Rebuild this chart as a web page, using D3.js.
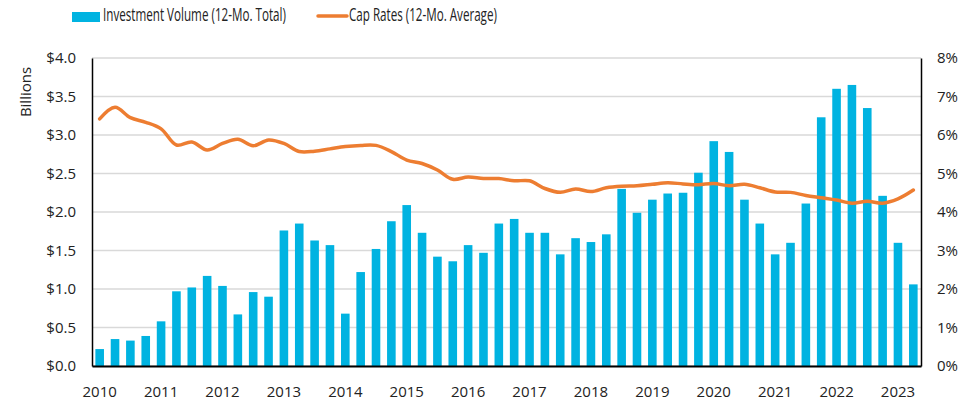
<!DOCTYPE html>
<html>
<head>
<meta charset="utf-8">
<script src="https://cdn.jsdelivr.net/npm/d3@7"></script>
<style>
  body { margin: 0; background: #fff; }
  text { font-family: "Open Sans", sans-serif; fill: #222; }
</style>
</head>
<body>
<svg width="978" height="405"></svg>
<script>
const BAR_COLOR = '#00b3e1';
const LINE_COLOR = '#ed7d31';
const GRID_COLOR = '#d9d9d9';

const quarters = [
  '2010Q1','2010Q2','2010Q3','2010Q4','2011Q1','2011Q2','2011Q3','2011Q4',
  '2012Q1','2012Q2','2012Q3','2012Q4','2013Q1','2013Q2','2013Q3','2013Q4',
  '2014Q1','2014Q2','2014Q3','2014Q4','2015Q1','2015Q2','2015Q3','2015Q4',
  '2016Q1','2016Q2','2016Q3','2016Q4','2017Q1','2017Q2','2017Q3','2017Q4',
  '2018Q1','2018Q2','2018Q3','2018Q4','2019Q1','2019Q2','2019Q3','2019Q4',
  '2020Q1','2020Q2','2020Q3','2020Q4','2021Q1','2021Q2','2021Q3','2021Q4',
  '2022Q1','2022Q2','2022Q3','2022Q4','2023Q1','2023Q2'
];

// billions of dollars, 12-month total
const volume = [
  0.22, 0.35, 0.33, 0.39, 0.58, 0.97, 1.02, 1.17, 1.04,
  0.67, 0.96, 0.90, 1.76, 1.85, 1.63, 1.57, 0.68, 1.22,
  1.52, 1.88, 2.09, 1.73, 1.42, 1.36, 1.57, 1.47, 1.85,
  1.91, 1.73, 1.73, 1.45, 1.66, 1.61, 1.71, 2.30, 1.99,
  2.16, 2.24, 2.25, 2.51, 2.92, 2.78, 2.16, 1.85,
  1.45, 1.60, 2.11, 3.23, 3.60, 3.65, 3.35, 2.21, 1.60, 1.06
];

// percent, 12-month average
const capRate = [
  6.42, 6.72, 6.45, 6.33, 6.16, 5.74, 5.82, 5.61, 5.78,
  5.89, 5.72, 5.87, 5.78, 5.57, 5.58, 5.64, 5.70, 5.73,
  5.73, 5.57, 5.35, 5.26, 5.09, 4.85, 4.91, 4.87, 4.87,
  4.81, 4.81, 4.61, 4.51, 4.60, 4.53, 4.63, 4.67, 4.68,
  4.72, 4.76, 4.73, 4.71, 4.74, 4.68, 4.72, 4.63,
  4.52, 4.51, 4.43, 4.37, 4.31, 4.23, 4.28, 4.23, 4.34, 4.57
];

const yearTicks = ['2010Q1','2011Q1','2012Q1','2013Q1','2014Q1','2015Q1','2016Q1',
  '2017Q1','2018Q1','2019Q1','2020Q1','2021Q1','2022Q1','2023Q1'];
const leftTicks = [0, 0.5, 1, 1.5, 2, 2.5, 3, 3.5, 4];
const rightTicks = [0, 1, 2, 3, 4, 5, 6, 7, 8];

const margin = { top: 58, right: 57, bottom: 39, left: 92 };
const width = 978 - margin.left - margin.right;
const height = 405 - margin.top - margin.bottom;

const data = quarters.map((q, i) => ({ q: q, vol: volume[i], rate: capRate[i] }));

const svg = d3.select('svg')
  .append('g')
  .attr('transform', 'translate(' + margin.left + ',' + margin.top + ')');

const x = d3.scaleBand()
  .domain(quarters)
  .range([0, width])
  .paddingInner(0.44)
  .paddingOuter(0.22);

const y = d3.scaleLinear().domain([0, 4]).range([height, 0]);
const y2 = d3.scaleLinear().domain([0, 8]).range([height, 0]);

/* gridlines */
svg.append('g')
  .selectAll('line')
  .data(leftTicks)
  .join('line')
  .attr('x1', 0)
  .attr('x2', width)
  .attr('y1', d => y(d))
  .attr('y2', d => y(d))
  .attr('stroke', GRID_COLOR)
  .attr('stroke-width', 1.5);

/* bars */
svg.append('g')
  .selectAll('rect')
  .data(data)
  .join('rect')
  .attr('x', d => x(d.q))
  .attr('width', x.bandwidth())
  .attr('y', d => y(d.vol))
  .attr('height', d => height - y(d.vol))
  .attr('fill', BAR_COLOR);

/* cap rate line */
svg.append('path')
  .datum(data)
  .attr('fill', 'none')
  .attr('stroke', LINE_COLOR)
  .attr('stroke-width', 3.5)
  .attr('stroke-linecap', 'round')
  .attr('d', d3.line()
    .curve(d3.curveCatmullRom)
    .x(d => x(d.q) + x.bandwidth() / 2)
    .y(d => y2(d.rate)));

/* left axis */
const yAxis = svg.append('g')
  .call(d3.axisLeft(y).tickValues(leftTicks).tickSize(0).tickPadding(16)
    .tickFormat(d => '$' + d3.format('.1f')(d)));
yAxis.select('.domain').attr('stroke', '#000').attr('stroke-width', 1.5);
yAxis.selectAll('text').style('font-size', '15px').attr('fill', '#222');

/* right axis */
const y2Axis = svg.append('g')
  .attr('transform', 'translate(' + width + ',0)')
  .call(d3.axisRight(y2).tickValues(rightTicks).tickSize(0).tickPadding(16)
    .tickFormat(d => d + '%'));
y2Axis.select('.domain').attr('stroke', '#000').attr('stroke-width', 1.5);
y2Axis.selectAll('text').style('font-size', '15px').attr('fill', '#222');

/* bottom axis */
const xAxis = svg.append('g')
  .attr('transform', 'translate(0,' + height + ')')
  .call(d3.axisBottom(x).tickValues(yearTicks).tickSize(0).tickPadding(20)
    .tickFormat(d => d.slice(0, 4)));
xAxis.select('.domain').attr('stroke', '#000').attr('stroke-width', 2);
xAxis.selectAll('text').style('font-size', '15px').attr('fill', '#222');

/* y title */
svg.append('text')
  .attr('transform', 'translate(' + (-61) + ',' + 34 + ') rotate(-90)')
  .attr('text-anchor', 'middle')
  .style('font-size', '15px')
  .text('Billions');

/* legend - condensed text, squeezed with a horizontal scale */
const legend = d3.select('svg').append('g');
function legendLabel(px, label, targetWidth) {
  const t = legend.append('text')
    .style('font-size', '18px')
    .text(label);
  const k = targetWidth / t.node().getComputedTextLength();
  t.attr('transform', 'translate(' + px + ',21) scale(' + k + ',1)');
}
legend.append('rect')
  .attr('x', 72).attr('y', 12).attr('width', 28).attr('height', 10)
  .attr('fill', BAR_COLOR);
legendLabel(103, 'Investment Volume (12-Mo. Total)', 183);
legend.append('line')
  .attr('x1', 318).attr('x2', 347).attr('y1', 16).attr('y2', 16)
  .attr('stroke', LINE_COLOR).attr('stroke-width', 3.5)
  .attr('stroke-linecap', 'round');
legendLabel(349, 'Cap Rates (12-Mo. Average)', 148);
</script>
</body>
</html>
